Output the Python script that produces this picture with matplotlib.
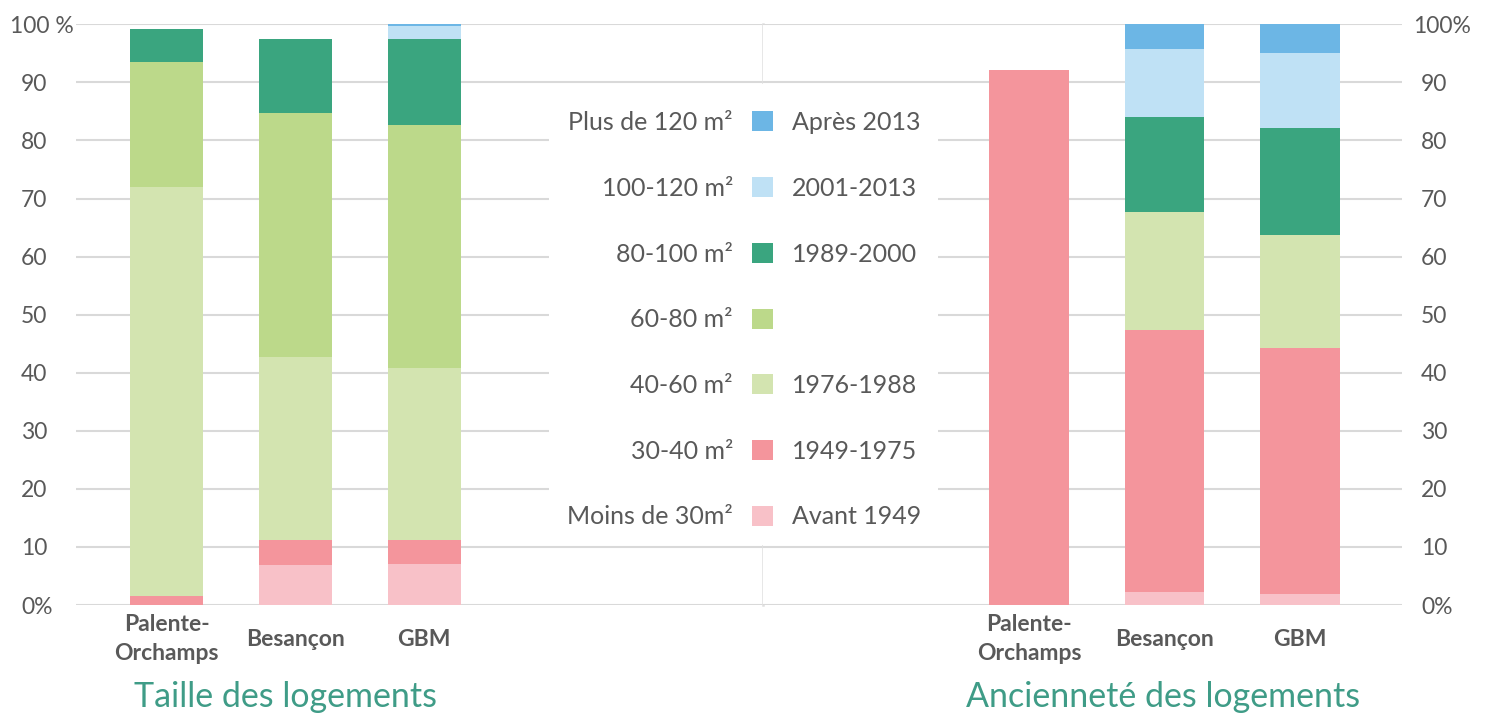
import numpy as np
import matplotlib.pyplot as plt
from matplotlib.patches import Patch, Rectangle
from matplotlib.transforms import ScaledTranslation

plt.rcParams['font.family'] = ['Lato', 'DejaVu Sans']

W, H = 1505, 713
GREY = '#595959'
GRID = '#d9d9d9'
TEAL = '#3f9c87'

categories = ['Palente-\nOrchamps', 'Besançon', 'GBM']

# Taille des logements (% of dwellings, stacked bottom -> top)
size_labels = ['Moins de 30m²', '30-40 m²', '40-60 m²', '60-80 m²',
               '80-100 m²', '100-120 m²', 'Plus de 120 m²']
size_moins30 = [0.0, 6.9, 7.1]
size_30_40   = [1.5, 4.3, 4.1]
size_40_60   = [70.4, 31.5, 29.6]
size_60_80   = [21.6, 42.0, 41.8]
size_80_100  = [5.7, 12.7, 14.8]
size_100_120 = [0.0, 0.0, 2.3]
size_plus120 = [0.0, 0.0, 0.3]

# Ancienneté des logements
age_labels = ['Avant 1949', '1949-1975', '1976-1988', '',
              '1989-2000', '2001-2013', 'Après 2013']
age_avant49 = [0.0, 2.2, 1.9]
age_49_75   = [92.1, 45.1, 42.4]
age_76_88   = [0.0, 20.3, 19.5]
age_89_00   = [0.0, 16.4, 18.4]
age_01_13   = [0.0, 11.7, 12.8]
age_apres13 = [0.0, 4.3, 5.0]

colors = ['#f8c1c8', '#f4959c', '#d3e4b0', '#bcd98a',
          '#3aa57f', '#bfe1f5', '#6cb6e5']

size_series = [size_moins30, size_30_40, size_40_60, size_60_80,
               size_80_100, size_100_120, size_plus120]
age_series = [age_avant49, age_49_75, age_76_88, None,
              age_89_00, age_01_13, age_apres13]

fig = plt.figure(figsize=(W / 100, H / 100), dpi=100)
bottom_f = (H - 605) / H
height_f = (605 - 24.3) / H
ax1 = fig.add_axes([76 / W, bottom_f, (763 - 76) / W, height_f])
ax2 = fig.add_axes([763 / W, bottom_f, (1402 - 763) / W, height_f])

x = np.arange(len(categories))


def stack(ax, series, width):
    base = np.zeros(len(categories))
    for vals, col in zip(series, colors):
        if vals is None:
            continue
        ax.bar(x, vals, width, bottom=base, color=col, zorder=2)
        base += np.array(vals)


stack(ax1, size_series, 0.567)
stack(ax2, age_series, 0.59)

ax1.set_xlim(-0.703, 4.633)
ax2.set_xlim(-1.963, 2.753)

yt = np.arange(0, 101, 10)
for ax in (ax1, ax2):
    ax.set_ylim(0, 100)
    ax.set_yticks(yt)
    ax.grid(axis='y', color=GRID, lw=1.5, zorder=0)
    ax.set_axisbelow(True)
    for s in ax.spines.values():
        s.set_visible(False)
    ax.set_xticks(x)
    ax.set_xticklabels(categories, fontsize=16.5, fontweight='bold',
                       color=GREY, va='center', linespacing=1.45)
    ax.tick_params(axis='x', length=0, pad=24.5)

ax1.spines['right'].set_visible(True)
ax1.spines['right'].set_color('#e0e0e0')
ax1.spines['right'].set_linewidth(1.8)

ax1.set_yticklabels(['0%'] + [str(v) for v in yt[1:-1]] + ['100 %'],
                    fontsize=16.5, color=GREY, ha='left')
ax1.tick_params(axis='y', length=0, pad=39.6)
ax1.get_yticklabels()[-1].set_transform(
    ax1.get_yticklabels()[-1].get_transform()
    + ScaledTranslation(-11 / 100, 0, fig.dpi_scale_trans))

ax2.yaxis.tick_right()
ax2.set_yticklabels(['0%'] + [str(v) for v in yt[1:-1]] + ['100%'],
                    fontsize=16.5, color=GREY)
ax2.tick_params(axis='y', length=0, pad=13.7)
ax2.get_yticklabels()[-1].set_transform(
    ax2.get_yticklabels()[-1].get_transform()
    + ScaledTranslation(-8 / 100, 0, fig.dpi_scale_trans))

# white box behind the legend, hiding the gridlines
fig.patches.append(Rectangle((549 / W, (H - 545) / H), (938 - 549) / W,
                             (545 - 84) / H, transform=fig.transFigure,
                             facecolor='white', edgecolor='none', zorder=1))

handles = [Patch(facecolor=c, edgecolor='none') for c in colors][::-1]
leg1 = fig.legend(handles, size_labels[::-1], loc='upper right',
                  bbox_to_anchor=(773 / W, (H - 111) / H), frameon=False,
                  markerfirst=False, fontsize=18, labelcolor=GREY,
                  handlelength=0.85, handleheight=0.85, handletextpad=0.75,
                  labelspacing=1.71, borderpad=0, borderaxespad=0)
empty = [Patch(facecolor='none', edgecolor='none') for _ in colors]
leg2 = fig.legend(empty, age_labels[::-1], loc='upper left',
                  bbox_to_anchor=(792 / W, (H - 111) / H), frameon=False,
                  fontsize=18, labelcolor=GREY, handlelength=0,
                  handleheight=0.85, handletextpad=0,
                  labelspacing=1.71, borderpad=0, borderaxespad=0)

fig.text(286 / W, (H - 707) / H, 'Taille des logements', fontsize=24.5,
         color=TEAL, ha='center', va='baseline')
fig.text(1163 / W, (H - 707) / H, 'Ancienneté des logements', fontsize=24.5,
         color=TEAL, ha='center', va='baseline')

fig.savefig('out.png', dpi=100, facecolor='white')
